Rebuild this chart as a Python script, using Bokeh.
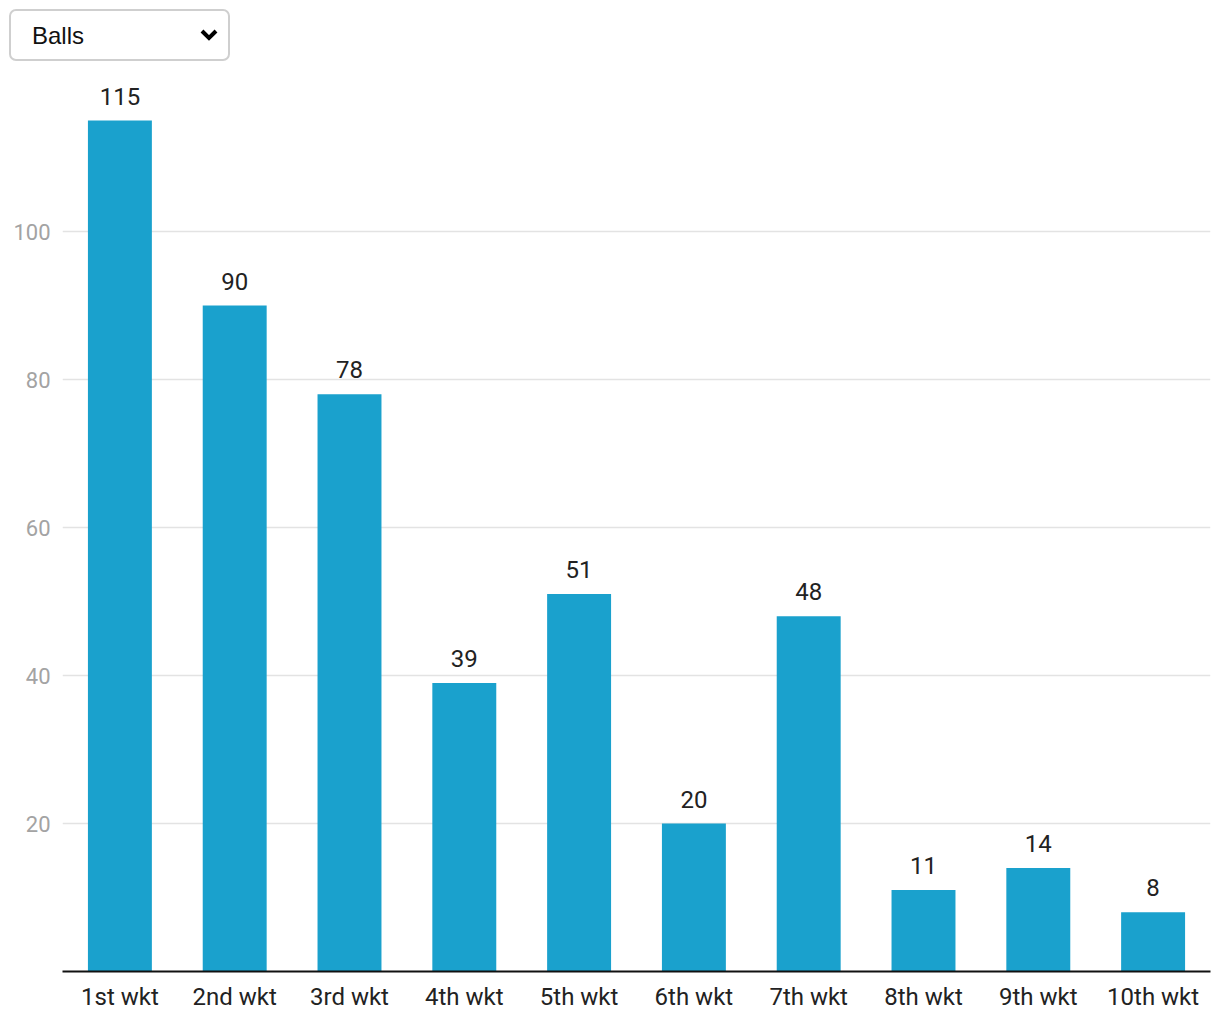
from bokeh.plotting import figure
from bokeh.models import ColumnDataSource, Range1d, FixedTicker, Select, InlineStyleSheet
from bokeh.layouts import column
from bokeh.core.properties import value
from bokeh.embed import file_html
from bokeh.resources import INLINE

categories = ["1st wkt", "2nd wkt", "3rd wkt", "4th wkt", "5th wkt",
              "6th wkt", "7th wkt", "8th wkt", "9th wkt", "10th wkt"]
balls = [115, 90, 78, 39, 51, 20, 48, 11, 14, 8]
y_ticks = [20, 40, 60, 80, 100]
options = ["Balls", "Runs"]

src = ColumnDataSource(dict(cat=categories, val=balls, lab=[str(v) for v in balls]))

p = figure(x_range=categories, y_range=Range1d(0, 120),
           width=1204, height=948, output_backend="svg", toolbar_location=None,
           min_border_left=54, min_border_right=2, min_border_top=18, min_border_bottom=42,
           margin=(0, 0, 0, 8))
p.outline_line_color = None
p.background_fill_color = "white"

p.vbar(x="cat", top="val", width=0.557, source=src, fill_color="#1aa1cd", line_color=None)
p.text(x="cat", y="val", text="lab", source=src, text_align="center", text_baseline="bottom",
       y_offset=-16, text_font=value("Roboto"), text_font_size="24px", text_color="#222222")

p.xgrid.grid_line_color = None
p.ygrid.grid_line_color = "#e3e3e3"
p.ygrid.grid_line_width = 1.5
p.yaxis.ticker = FixedTicker(ticks=y_ticks)
p.yaxis.axis_line_color = None
p.yaxis.major_tick_line_color = None
p.yaxis.minor_tick_line_color = None
p.yaxis.major_label_text_font = "Roboto"
p.yaxis.major_label_text_font_size = "22px"
p.yaxis.major_label_text_color = "#a3a3a3"
p.yaxis.major_label_standoff = 6

p.xaxis.axis_line_color = "#111111"
p.xaxis.axis_line_width = 2
p.xaxis.major_tick_line_color = None
p.xaxis.minor_tick_line_color = None
p.xaxis.major_label_text_font = "Roboto"
p.xaxis.major_label_text_font_size = "24px"
p.xaxis.major_label_text_color = "#222222"
p.xaxis.major_label_standoff = 5

chev = ("data:image/svg+xml;utf8,<svg xmlns='http://www.w3.org/2000/svg' width='20' height='14' "
        "viewBox='0 0 20 14'><path d='M3 3 L10 10 L17 3' fill='none' stroke='black' "
        "stroke-width='4'/></svg>")
css = InlineStyleSheet(css="""
select {
  font-family: 'Liberation Sans', Arial, sans-serif !important;
  font-size: 24px !important;
  color: #111 !important;
  border: 2px solid #cfcfcf !important;
  border-radius: 7px !important;
  padding-left: 21px !important;
  height: 52px !important;
  -webkit-appearance: none !important;
  appearance: none !important;
  background: white url("%s") no-repeat right 9px center !important;
  background-size: 20px 14px !important;
}
""" % chev)
sel = Select(value="Balls", options=options, width=221, height=52,
             margin=(9, 0, 4, 9), stylesheets=[css])

layout = column(sel, p, spacing=0)
open("out.html", "w").write(file_html(layout, INLINE))
